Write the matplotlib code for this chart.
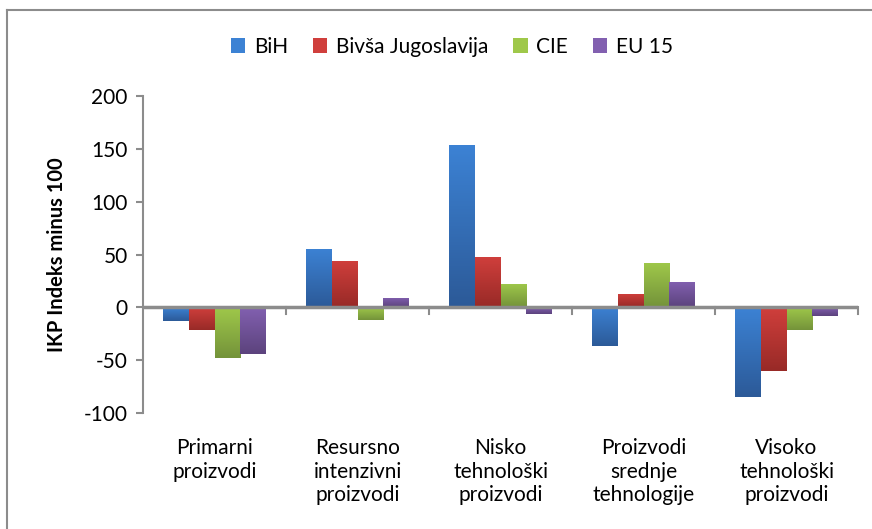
import numpy as np
import matplotlib
matplotlib.use('Agg')
import matplotlib.pyplot as plt
from matplotlib.colors import LinearSegmentedColormap
from matplotlib.lines import Line2D

categories = ['Primarni\nproizvodi', 'Resursno\nintenzivni\nproizvodi', 'Nisko\ntehnološki\nproizvodi',
              'Proizvodi\nsrednje\ntehnologije', 'Visoko\ntehnološki\nproizvodi']
series = ['BiH', 'Bivša Jugoslavija', 'CIE', 'EU 15']
bih = [-13, 55, 154, -37, -85]
jugo = [-21, 44, 48, 13, -60]
cie = [-48, -12, 22, 42, -21]
eu15 = [-44, 9, -6, 24, -8]
yticks = [-100, -50, 0, 50, 100, 150, 200]

# (top colour, bottom colour) for the Excel-like gradient
colors = [('#3c82d4', '#2c5a98'), ('#d03f3c', '#982a27'),
          ('#9fc84a', '#74933a'), ('#8260b0', '#5c437d')]

plt.rcParams['font.family'] = ['Lato', 'DejaVu Sans']

fig = plt.figure(figsize=(8.72, 5.29), dpi=100)
ax = fig.add_axes([0.164, 0.2193, 0.82, 0.5992])

# outer frame of the chart object (top and left edges visible)
fig.add_artist(Line2D([7/872, 1], [1-10/529, 1-10/529], color='#8c8c8c', lw=1.5))
fig.add_artist(Line2D([7/872, 7/872], [0, 1-10/529], color='#8c8c8c', lw=1.5))

x = np.arange(len(categories))
w = 0.18
grad = np.linspace(0, 1, 100).reshape(-1, 1)
for i, vals in enumerate([bih, jugo, cie, eu15]):
    top, bot = colors[i]
    cmap = LinearSegmentedColormap.from_list('g%d' % i, [bot, top])
    bars = ax.bar(x + (i - 1.5) * w, vals, w, color=top, label=series[i], zorder=2)
    for b in bars:
        x0, y0 = b.get_x(), b.get_y()
        x1, y1 = x0 + b.get_width(), y0 + b.get_height()
        lo, hi = min(y0, y1), max(y0, y1)
        im = ax.imshow(grad, cmap=cmap, origin='lower', aspect='auto',
                       extent=(x0, x1, lo, hi), zorder=2.5)
        im.set_clip_path(b)

ax.set_xlim(-0.5, len(categories) - 0.5)
ax.set_ylim(-100, 200)
ax.set_yticks(yticks)
ax.set_yticklabels([str(v) for v in yticks], fontsize=15)
ax.set_xticks([])

for s in ['top', 'right', 'bottom']:
    ax.spines[s].set_visible(False)
ax.spines['left'].set_color('#8c8c8c')
ax.spines['left'].set_linewidth(1.5)
ax.tick_params(axis='y', length=5, width=1.5, color='#8c8c8c', pad=6)

ax.axhline(0, color='#8c8c8c', lw=2.5, zorder=3)
for b in np.arange(-0.5, len(categories), 1.0)[1:]:
    ax.plot([b, b], [0, -6], color='#8c8c8c', lw=1.5, zorder=3, clip_on=False)

for xi, lab in zip(x, categories):
    ax.text(xi, -124, lab, ha='center', va='top', fontsize=15, linespacing=1.2)

ax.set_ylabel('IKP Indeks minus 100', fontsize=14.5, fontweight='bold', labelpad=12)

leg = fig.legend(loc='center', bbox_to_anchor=(0.518, 1-47/529), ncol=4, frameon=False,
                 fontsize=15, handlelength=0.7, handleheight=0.7, handletextpad=0.4,
                 columnspacing=1.2)

fig.savefig('out.png', dpi=100)
